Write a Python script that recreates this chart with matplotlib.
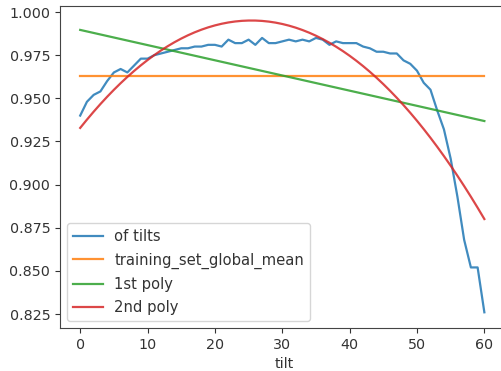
import numpy as np
import matplotlib
matplotlib.use("Agg")
import matplotlib.pyplot as plt

# accuracy per tilt angle
tilt = list(range(61))
of_tilts = [
    0.940, 0.948, 0.952, 0.954, 0.960, 0.965, 0.967, 0.965, 0.969, 0.973,
    0.973, 0.975, 0.976, 0.977, 0.978, 0.979, 0.979, 0.980, 0.980, 0.981,
    0.981, 0.980, 0.984, 0.982, 0.982, 0.984, 0.981, 0.985, 0.982, 0.982,
    0.983, 0.984, 0.983, 0.984, 0.983, 0.985, 0.984, 0.981, 0.983, 0.982,
    0.982, 0.982, 0.980, 0.979, 0.977, 0.977, 0.976, 0.976, 0.972, 0.970,
    0.966, 0.959, 0.955, 0.943, 0.932, 0.915, 0.893, 0.868, 0.852, 0.852,
    0.826,
]
training_set_global_mean = 0.963

x = np.array(tilt)
y = np.array(of_tilts)
fit1 = np.polyval(np.polyfit(x, y, 1), x)
fit2 = np.polyval(np.polyfit(x, y, 2), x)

plt.rcParams["font.size"] = 10.3
plt.rcParams["text.color"] = "#333333"
plt.rcParams["xtick.color"] = "#333333"
plt.rcParams["ytick.color"] = "#333333"
plt.rcParams["axes.labelcolor"] = "#333333"
plt.rcParams["axes.edgecolor"] = "#444444"

fig = plt.figure(figsize=(5.02, 3.71), dpi=100)
ax = fig.add_axes([0.1195, 0.1159, 0.895, 0.8679])
# the frame's right edge falls off the canvas
ax.spines["right"].set_visible(False)

ax.plot(x, y, label="of tilts", lw=1.6, alpha=0.85)
ax.plot(x, [training_set_global_mean] * len(x), label="training_set_global_mean", lw=1.6, alpha=0.85)
ax.plot(x, fit1, label="1st poly", lw=1.6, alpha=0.85)
ax.plot(x, fit2, label="2nd poly", lw=1.6, alpha=0.85)

ax.set_xlim(-3, 63.7)
ax.set_ylim(0.8169, 1.0035)
ax.set_xticks([0, 10, 20, 30, 40, 50, 60])
ax.set_yticks([0.825, 0.850, 0.875, 0.900, 0.925, 0.950, 0.975, 1.000])
ax.set_xlabel("tilt")
ax.legend(loc="lower left", fontsize=10.6, labelspacing=0.55)

fig.savefig("out.png", dpi=100)
